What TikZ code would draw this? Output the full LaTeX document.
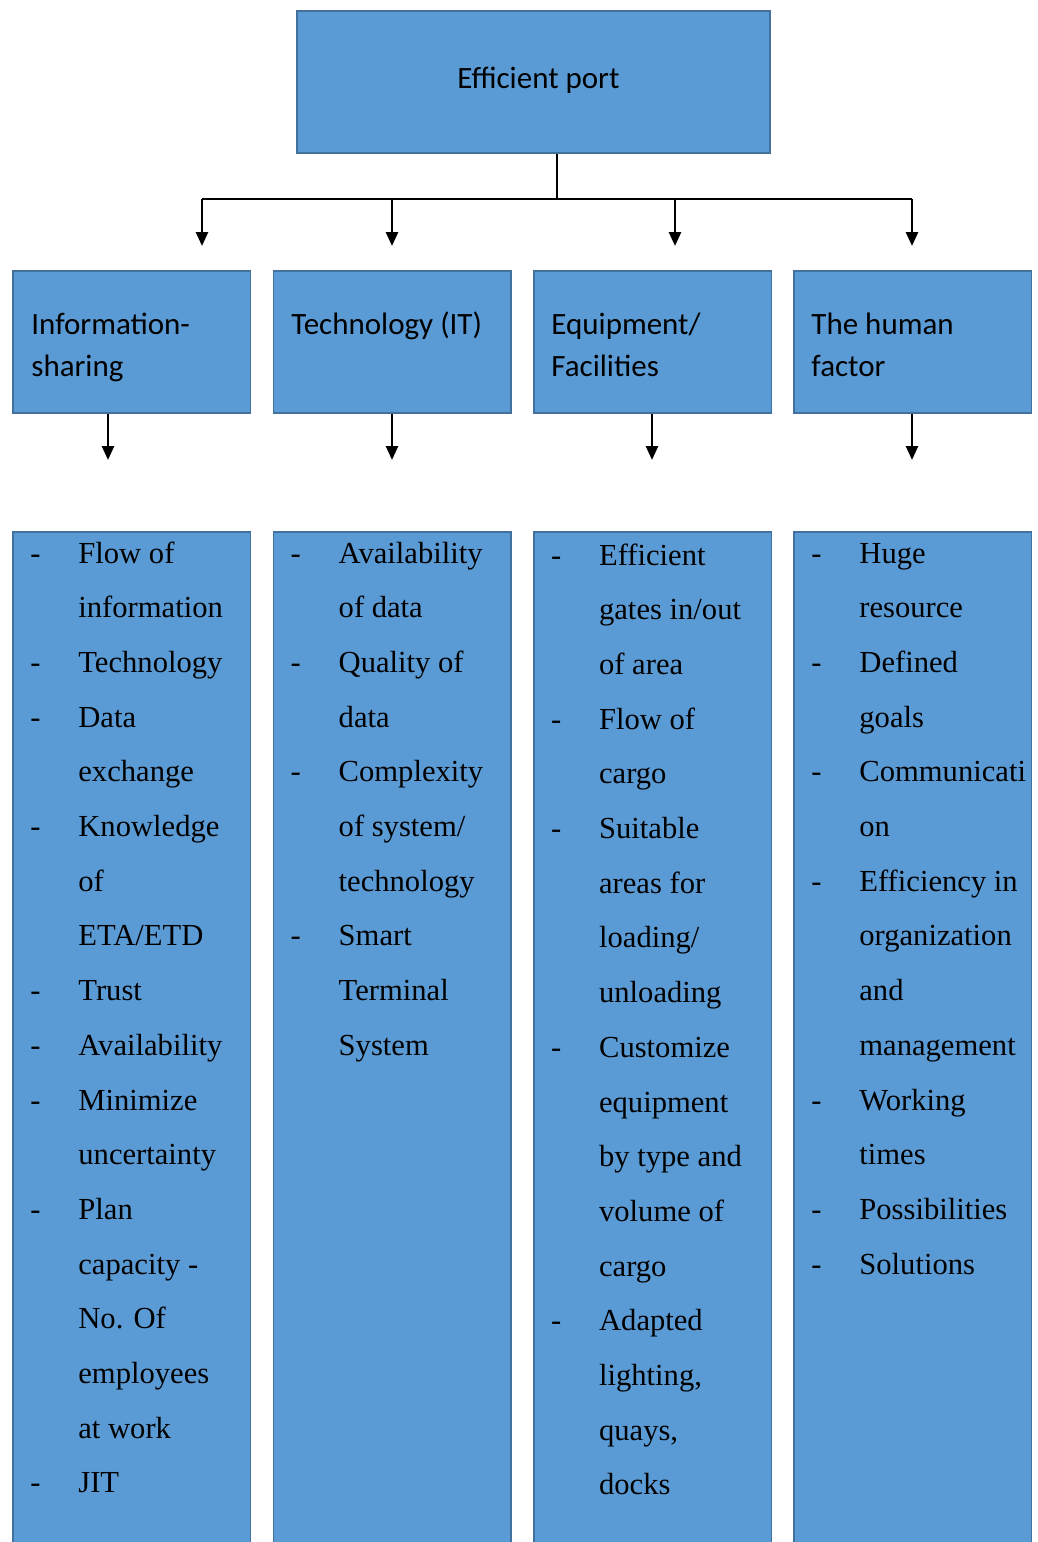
\documentclass[tikz,border=0pt]{standalone}
\usepackage{fontspec}
\setmainfont{Liberation Serif}
\newfontfamily\headfont{Carlito}
\usetikzlibrary{arrows.meta}

\definecolor{boxblue}{HTML}{5B9BD5}
\definecolor{boxline}{HTML}{41719C}

\begin{document}
\begin{tikzpicture}[x=0.5pt, y=-0.5pt,
    box/.style={draw=boxline, fill=boxblue, line width=0.8pt, inner sep=0pt},
    head/.style={box, anchor=north west, minimum width=118.75pt, minimum height=71pt},
    list/.style={box, anchor=north west, minimum width=118.75pt, minimum height=560pt},
    headtxt/.style={anchor=base west, inner sep=0pt, font=\headfont\fontsize{15.5}{19}\selectfont},
    item/.style={anchor=base west, inner sep=0pt, font=\fontsize{15.3}{18}\selectfont},
    wire/.style={line width=1.3pt},
    arr/.style={wire, -{Triangle[width=6pt,length=7pt]}}]
      % \draw[help lines, gray!50, very thin] (0,0) grid[step=100] (1038,1542);
      \useasboundingbox (0,0) rectangle (1038,1542);
      \clip (0,0) rectangle (1038,1542);

      % top box
      \node[box, minimum width=236.5pt, minimum height=71pt] (port) at (533.5,82) {};
      \node[headtxt] (port-t) at (457,88) {Efficient port};

      % the four columns
      \foreach \name/\x in {info/12, tech/272.5, equip/533, human/793} {
        \node[head] (\name) at (\x,270) {};
        \node[list] (\name-list) at (\x,531) {};
      }

      \node[headtxt] (info-1) at (31,334) {Information-};
      \node[headtxt] (info-2) at (31,376) {sharing};
      \node[headtxt] (tech-1) at (291,334) {Technology (IT)};
      \node[headtxt] (equip-1) at (551,334) {Equipment/};
      \node[headtxt] (equip-2) at (551,376) {Facilities};
      \node[headtxt] (human-1) at (811,334) {The human};
      \node[headtxt] (human-2) at (811,376) {factor};

      % connectors
      \coordinate (fork) at (557,199);
      \coordinate (t1) at (202,246);
      \coordinate (t2) at (392,246);
      \coordinate (t3) at (675,246);
      \coordinate (t4) at (912,246);
      \draw[wire] (port.south -| fork) -- (fork);
      \draw[wire] (t1 |- fork) -- (t4 |- fork);
      \foreach \t in {t1,t2,t3,t4}
        \draw[arr] (\t |- fork) -- (\t);

      \coordinate (d1) at (108,460);
      \coordinate (d2) at (392,460);
      \coordinate (d3) at (652,460);
      \coordinate (d4) at (912,460);
      \draw[arr] (d1 |- info.south) -- (d1);
      \draw[arr] (d2 |- tech.south) -- (d2);
      \draw[arr] (d3 |- equip.south) -- (d3);
      \draw[arr] (d4 |- human.south) -- (d4);

      % lists
      \foreach \txt [count=\i from 0] in {Flow of, information, Technology, Data, exchange,
          Knowledge, of, ETA/ETD, Trust, Availability, Minimize, uncertainty, Plan,
          {capacity -}, No. Of, employees, at work, JIT}
        \node[item] (info-l\i) at (78,563+54.7*\i) {\txt};
      \foreach \i in {0,2,3,5,8,9,10,12,17}
        \node[item] (info-b\i) at (30,563+54.7*\i) {-};

      \foreach \txt [count=\i from 0] in {Availability, of data, Quality of, data,
          Complexity, of system/, technology, Smart, Terminal, System}
        \node[item] (tech-l\i) at (338.3,563+54.7*\i) {\txt};
      \foreach \i in {0,2,4,7}
        \node[item] (tech-b\i) at (290.3,563+54.7*\i) {-};

      \foreach \txt [count=\i from 0] in {Efficient, gates in/out, of area, Flow of, cargo,
          Suitable, areas for, loading/, unloading, Customize, equipment, by type and,
          volume of, cargo, Adapted, {lighting,}, {quays,}, docks}
        \node[item] (equip-l\i) at (598.7,565+54.7*\i) {\txt};
      \foreach \i in {0,3,5,9,14}
        \node[item] (equip-b\i) at (550.7,565+54.7*\i) {-};

      \foreach \txt [count=\i from 0] in {Huge, resource, Defined, goals, Communicati, on,
          Efficiency in, organization, and, management, Working, times, Possibilities, Solutions}
        \node[item] (human-l\i) at (859,563+54.7*\i) {\txt};
      \foreach \i in {0,2,4,6,10,12,13}
        \node[item] (human-b\i) at (811,563+54.7*\i) {-};
    \end{tikzpicture}
\end{document}
